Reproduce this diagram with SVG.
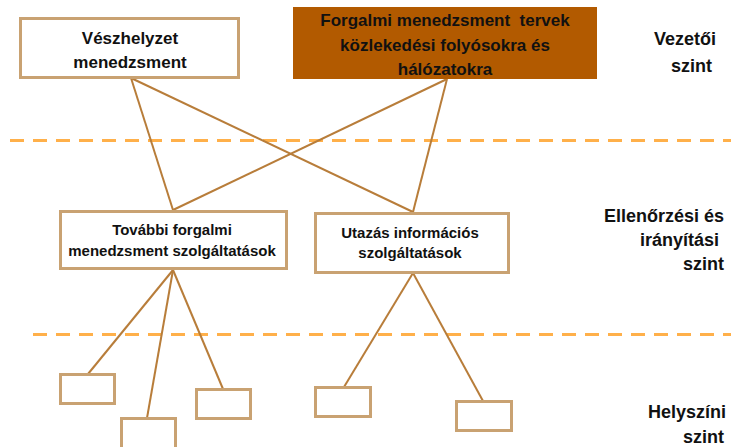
<svg xmlns="http://www.w3.org/2000/svg" width="731" height="447" viewBox="0 0 731 447">
  <style>
    .box { fill: #ffffff; stroke: #C9A272; stroke-width: 3; }
    .plan { fill: #B25A00; stroke: none; }
    .t { font-family: "Liberation Sans", Arial, sans-serif; font-weight: bold; fill: #111111; text-anchor: middle; white-space: pre; }
    .lvl { font-family: "Liberation Sans", Arial, sans-serif; font-weight: bold; fill: #111111; text-anchor: end; font-size: 18px; }
    .dash { stroke: #FFB04A; stroke-width: 3; stroke-dasharray: 14 9; fill: none; }
    .link { stroke: #B87D3A; stroke-width: 2; fill: none; }
  </style>

  <rect width="731" height="447" fill="#ffffff"/>

  <!-- level separators -->
  <g id="separators">
    <line class="dash" x1="10" y1="140.5" x2="731" y2="140.5"/>
    <line class="dash" x1="33" y1="334.5" x2="731" y2="334.5"/>
  </g>

  <!-- connectors -->
  <g id="connectors">
    <line class="link" x1="131" y1="78" x2="173" y2="210"/>
    <line class="link" x1="131" y1="78" x2="413" y2="212"/>
    <line class="link" x1="447" y1="79" x2="173" y2="210"/>
    <line class="link" x1="447" y1="79" x2="413" y2="212"/>
    <line class="link" x1="173" y1="270" x2="88" y2="374"/>
    <line class="link" x1="173" y1="270" x2="147" y2="418"/>
    <line class="link" x1="173" y1="270" x2="223" y2="389"/>
    <line class="link" x1="413" y1="273" x2="344" y2="387"/>
    <line class="link" x1="413" y1="273" x2="483" y2="401"/>
  </g>

  <!-- management level -->
  <g id="veszhelyzet">
    <rect class="box" x="20.5" y="18.5" width="218" height="59"/>
    <text class="t" x="130" y="44" font-size="17">Vészhelyzet</text>
    <text class="t" x="130" y="68" font-size="17">menedzsment</text>
  </g>
  <g id="forgalmi-tervek">
    <rect class="plan" x="293" y="7" width="304" height="72"/>
    <text class="t" x="445" y="26" font-size="17" xml:space="preserve">Forgalmi menedzsment  tervek</text>
    <text class="t" x="445" y="51" font-size="17">közlekedési folyósokra és</text>
    <text class="t" x="445" y="75" font-size="17">hálózatokra</text>
  </g>

  <!-- control level -->
  <g id="tovabbi-szolg">
    <rect class="box" x="60.5" y="211.5" width="226" height="57"/>
    <text class="t" x="172" y="235" font-size="15">További forgalmi</text>
    <text class="t" x="172" y="256" font-size="15">menedzsment szolgáltatások</text>
  </g>
  <g id="utazas-info">
    <rect class="box" x="315.5" y="213.5" width="193" height="59"/>
    <text class="t" x="410" y="238" font-size="15">Utazás információs</text>
    <text class="t" x="410" y="258" font-size="15">szolgáltatások</text>
  </g>

  <!-- field level -->
  <g id="field-1"><rect class="box" x="60.5" y="374.5" width="54" height="29"/></g>
  <g id="field-2"><rect class="box" x="121.5" y="418.5" width="54" height="30"/></g>
  <g id="field-3"><rect class="box" x="196.5" y="389.5" width="54" height="29"/></g>
  <g id="field-4"><rect class="box" x="315.5" y="387.5" width="55" height="29"/></g>
  <g id="field-5"><rect class="box" x="456.5" y="401.5" width="55" height="29"/></g>

  <!-- level labels -->
  <g id="levels">
    <text class="lvl" x="716" y="45">Vezetői</text>
    <text class="lvl" x="712" y="72">szint</text>
    <text class="lvl" x="724" y="222">Ellenőrzési és</text>
    <text class="lvl" x="719" y="246">irányítási</text>
    <text class="lvl" x="724" y="270">szint</text>
    <text class="lvl" x="726" y="418">Helyszíni</text>
    <text class="lvl" x="724" y="443">szint</text>
  </g>
</svg>
